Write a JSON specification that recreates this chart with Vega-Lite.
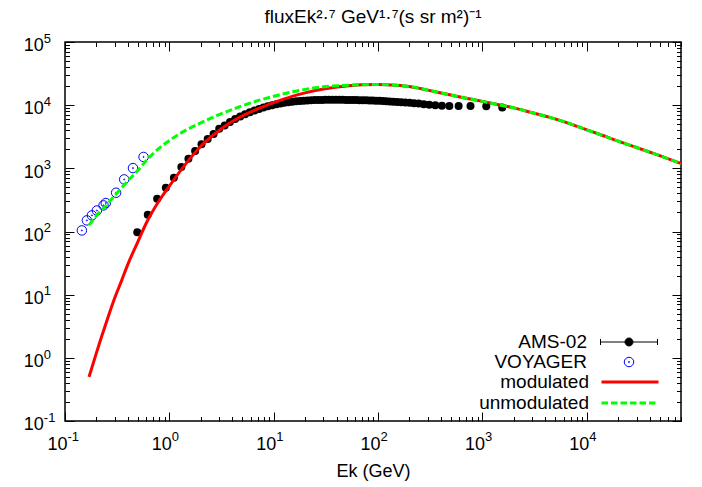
{
  "$schema": "https://vega.github.io/schema/vega-lite/v6.json",
  "width": 616,
  "height": 379,
  "autosize": {"type": "none"},
  "padding": {"left": 65, "top": 42, "right": 21, "bottom": 66},
  "background": "white",
  "title": {"text": "fluxEk²·⁷ GeV¹·⁷(s sr m²)⁻¹", "font": "Liberation Sans", "fontSize": 19, "fontWeight": "normal", "color": "black", "anchor": "middle", "baseline": "alphabetic", "offset": -10, "frame": "group"},
  "config": {
    "view": {"stroke": "black", "strokeWidth": 1.5},
    "font": "Liberation Sans",
    "axis": {"grid": false, "domain": false, "labelFont": "Liberation Sans", "labelColor": "black", "tickColor": "black", "labelOverlap": false, "labelFlush": false, "labelBound": false, "titleFont": "Liberation Sans"},
    "legend": {"title": null, "orient": "none", "padding": 0, "symbolSize": 361, "rowPadding": -4, "labelFont": "Liberation Sans", "labelFontSize": 19, "labelColor": "black", "labelAlign": "right", "labelOffset": -52, "labelBaseline": "middle", "labelLimit": 300, "symbolOpacity": 1}
  },
  "datasets": {
    "ams": [
      {"ek": 0.4925, "flux": 97}, {"ek": 0.621, "flux": 184}, {"ek": 0.764, "flux": 330}, {"ek": 0.925, "flux": 494},
      {"ek": 1.105, "flux": 711}, {"ek": 1.303, "flux": 1050}, {"ek": 1.523, "flux": 1420}, {"ek": 1.765, "flux": 1880},
      {"ek": 2.034, "flux": 2400}, {"ek": 2.33, "flux": 2920}, {"ek": 2.652, "flux": 3500}, {"ek": 3.005, "flux": 4217},
      {"ek": 3.39, "flux": 4786}, {"ek": 3.811, "flux": 5433}, {"ek": 4.272, "flux": 6053}, {"ek": 4.775, "flux": 6637},
      {"ek": 5.318, "flux": 7194}, {"ek": 5.907, "flux": 7727}, {"ek": 6.546, "flux": 8222}, {"ek": 7.236, "flux": 8710},
      {"ek": 7.982, "flux": 9162}, {"ek": 8.787, "flux": 9594}, {"ek": 9.654, "flux": 10000}, {"ek": 10.6, "flux": 10350},
      {"ek": 11.597, "flux": 10666}, {"ek": 12.644, "flux": 10940}, {"ek": 13.792, "flux": 11170}, {"ek": 15.04, "flux": 11376},
      {"ek": 16.387, "flux": 11535}, {"ek": 17.835, "flux": 11670}, {"ek": 19.384, "flux": 11776}, {"ek": 21.032, "flux": 11885},
      {"ek": 22.83, "flux": 11967}, {"ek": 24.779, "flux": 12023}, {"ek": 26.828, "flux": 12078}, {"ek": 29.027, "flux": 12106},
      {"ek": 31.376, "flux": 12134}, {"ek": 33.875, "flux": 12162}, {"ek": 36.574, "flux": 12162}, {"ek": 39.473, "flux": 12162},
      {"ek": 42.572, "flux": 12134}, {"ek": 45.871, "flux": 12134}, {"ek": 49.421, "flux": 12106}, {"ek": 53.22, "flux": 12078},
      {"ek": 57.27, "flux": 12050}, {"ek": 61.62, "flux": 12023}, {"ek": 66.32, "flux": 11995}, {"ek": 71.37, "flux": 11940},
      {"ek": 76.77, "flux": 11912}, {"ek": 82.57, "flux": 11858}, {"ek": 88.82, "flux": 11803}, {"ek": 95.57, "flux": 11749},
      {"ek": 103.07, "flux": 11695}, {"ek": 111.07, "flux": 11614}, {"ek": 119.57, "flux": 11535}, {"ek": 129.07, "flux": 11429},
      {"ek": 140.07, "flux": 11350}, {"ek": 152.57, "flux": 11272}, {"ek": 166.57, "flux": 11169}, {"ek": 182.57, "flux": 11041},
      {"ek": 200.57, "flux": 10914}, {"ek": 221.07, "flux": 10765}, {"ek": 245.07, "flux": 10593}, {"ek": 274.07, "flux": 10375},
      {"ek": 309.57, "flux": 10162}, {"ek": 353.57, "flux": 9954}, {"ek": 409.07, "flux": 9772}, {"ek": 482.07, "flux": 9683},
      {"ek": 591.57, "flux": 9727}, {"ek": 769.07, "flux": 9727}, {"ek": 1089.07, "flux": 9594}, {"ek": 1549.07, "flux": 9183}
    ],
    "voy": [
      {"ek": 0.145, "flux": 104}, {"ek": 0.162, "flux": 150}, {"ek": 0.181, "flux": 180}, {"ek": 0.202, "flux": 215},
      {"ek": 0.234, "flux": 259}, {"ek": 0.246, "flux": 282}, {"ek": 0.309, "flux": 411}, {"ek": 0.369, "flux": 668},
      {"ek": 0.448, "flux": 1010}, {"ek": 0.566, "flux": 1515}
    ],
    "mod": [
      {"ek": 0.17, "flux": 0.5}, {"ek": 0.2, "flux": 1.2}, {"ek": 0.25, "flux": 3.72}, {"ek": 0.3, "flux": 8.91},
      {"ek": 0.35, "flux": 17.0}, {"ek": 0.4, "flux": 30.2}, {"ek": 0.5, "flux": 69.2}, {"ek": 0.6, "flux": 135},
      {"ek": 0.8, "flux": 309}, {"ek": 1.0, "flux": 525}, {"ek": 1.5, "flux": 1288}, {"ek": 2.0, "flux": 2239},
      {"ek": 3.0, "flux": 3981}, {"ek": 4.0, "flux": 5495}, {"ek": 5.0, "flux": 6761}, {"ek": 7.0, "flux": 8710},
      {"ek": 10, "flux": 10965}, {"ek": 15, "flux": 13804}, {"ek": 20, "flux": 15668}, {"ek": 30, "flux": 17989},
      {"ek": 50, "flux": 20184}, {"ek": 70, "flux": 20989}, {"ek": 100, "flux": 21281}, {"ek": 150, "flux": 20654},
      {"ek": 200, "flux": 19724}, {"ek": 300, "flux": 17298}, {"ek": 500, "flux": 14454}, {"ek": 700, "flux": 12882},
      {"ek": 1000, "flux": 11482}, {"ek": 1500, "flux": 10000}, {"ek": 2000, "flux": 9057}, {"ek": 3000, "flux": 7586},
      {"ek": 4270, "flux": 6516}, {"ek": 6000, "flux": 5495}, {"ek": 10000, "flux": 4074}, {"ek": 14000, "flux": 3342},
      {"ek": 20000, "flux": 2692}, {"ek": 30000, "flux": 2138}, {"ek": 50000, "flux": 1585}, {"ek": 80000, "flux": 1190}
    ],
    "unmod": [
      {"ek": 0.17, "flux": 126}, {"ek": 0.2, "flux": 178}, {"ek": 0.25, "flux": 263}, {"ek": 0.3, "flux": 372},
      {"ek": 0.4, "flux": 631}, {"ek": 0.5, "flux": 933}, {"ek": 0.6, "flux": 1318}, {"ek": 0.8, "flux": 2089},
      {"ek": 1.0, "flux": 2754}, {"ek": 1.5, "flux": 4169}, {"ek": 2.0, "flux": 5248}, {"ek": 3.0, "flux": 7079},
      {"ek": 4.0, "flux": 8511}, {"ek": 5.0, "flux": 9772}, {"ek": 7.0, "flux": 11749}, {"ek": 10, "flux": 13804},
      {"ek": 15, "flux": 16218}, {"ek": 20, "flux": 17783}, {"ek": 30, "flux": 19498}, {"ek": 50, "flux": 20654},
      {"ek": 70, "flux": 21135}, {"ek": 100, "flux": 21281}, {"ek": 150, "flux": 20654}, {"ek": 200, "flux": 19724},
      {"ek": 300, "flux": 17298}, {"ek": 500, "flux": 14454}, {"ek": 700, "flux": 12882}, {"ek": 1000, "flux": 11482},
      {"ek": 1500, "flux": 10000}, {"ek": 2000, "flux": 9057}, {"ek": 3000, "flux": 7586}, {"ek": 4270, "flux": 6516},
      {"ek": 6000, "flux": 5495}, {"ek": 10000, "flux": 4074}, {"ek": 14000, "flux": 3342}, {"ek": 20000, "flux": 2692},
      {"ek": 30000, "flux": 2138}, {"ek": 50000, "flux": 1585}, {"ek": 80000, "flux": 1190}
    ]
  },
  "layer": [
    {
      "data": {"name": "ams"},
      "mark": {"type": "point", "shape": "circle", "filled": true, "color": "black", "size": 64, "opacity": 1},
      "encoding": {
        "x": {"field": "ek", "type": "quantitative", "scale": {"type": "log", "domain": [0.1, 80000], "nice": false},
          "axis": {"orient": "bottom", "values": [0.1,0.2,0.3,0.4,0.5,0.6,0.7,0.8,0.9,1,2,3,4,5,6,7,8,9,10,20,30,40,50,60,70,80,90,100,200,300,400,500,600,700,800,900,1000,2000,3000,4000,5000,6000,7000,8000,9000,10000,20000,30000,40000,50000,60000,70000,80000],
            "tickSize": -9, "tickWidth": 1,
            "tickDash": {"condition": {"test": "abs(log(datum.value)/LN10 - round(log(datum.value)/LN10)) < 0.001", "value": [12, 0]}, "value": [4.5, 12]},
            "labelExpr": "abs(log(datum.value)/LN10 - round(log(datum.value)/LN10)) < 0.001 ? '10' : ''",
            "labelFontSize": 18, "labelAlign": "right", "labelBaseline": "alphabetic", "labelOffset": 2, "labelPadding": 37,
            "title": "Ek (GeV)", "titleFontSize": 18, "titleFontWeight": "normal", "titleColor": "black", "titleBaseline": "alphabetic", "titleY": 55}},
        "y": {"field": "flux", "type": "quantitative", "scale": {"type": "log", "domain": [0.1, 100000], "nice": false},
          "axis": {"orient": "left", "values": [0.1,0.2,0.3,0.4,0.5,0.6,0.7,0.8,0.9,1,2,3,4,5,6,7,8,9,10,20,30,40,50,60,70,80,90,100,200,300,400,500,600,700,800,900,1000,2000,3000,4000,5000,6000,7000,8000,9000,10000,20000,30000,40000,50000,60000,70000,80000,90000,100000],
            "tickSize": -9, "tickWidth": 1,
            "tickDash": {"condition": {"test": "abs(log(datum.value)/LN10 - round(log(datum.value)/LN10)) < 0.001", "value": [12, 0]}, "value": [4.5, 12]},
            "labelExpr": "abs(log(datum.value)/LN10 - round(log(datum.value)/LN10)) < 0.001 ? '10' : ''",
            "labelFontSize": 18, "labelAlign": "right", "labelBaseline": "alphabetic", "labelOffset": 8.7, "labelPadding": 30.7,
            "title": null}}
      }
    },
    {
      "data": {"name": "voy"},
      "mark": {"type": "point", "shape": "M1,0A1,1,0,1,1,-1,0A1,1,0,1,1,1,0ZM0.12,0A0.12,0.12,0,1,1,-0.12,0A0.12,0.12,0,1,1,0.12,0Z", "filled": false, "color": "#0000ff", "strokeWidth": 1, "size": 90, "opacity": 1},
      "encoding": {
        "x": {"field": "ek", "type": "quantitative", "scale": {"type": "log", "domain": [0.1, 80000], "nice": false},
          "axis": {"orient": "bottom", "values": [0.1, 1, 10, 100, 1000, 10000], "ticks": false,
            "labelExpr": "'' + round(log(datum.value)/LN10)",
            "labelFontSize": 13, "labelAlign": "left", "labelBaseline": "alphabetic", "labelOffset": 2, "labelPadding": 19, "title": null}},
        "y": {"field": "flux", "type": "quantitative", "scale": {"type": "log", "domain": [0.1, 100000], "nice": false},
          "axis": {"orient": "left", "values": [0.1, 1, 10, 100, 1000, 10000, 100000], "ticks": false,
            "labelExpr": "'' + round(log(datum.value)/LN10)",
            "labelFontSize": 13, "labelAlign": "left", "labelBaseline": "alphabetic", "labelOffset": 0.3, "labelPadding": 21.7, "title": null}}
      }
    },
    {
      "data": {"name": "mod"},
      "mark": {"type": "line", "color": "#ff0000", "strokeWidth": 3, "interpolate": "monotone", "clip": true},
      "encoding": {
        "x": {"field": "ek", "type": "quantitative", "scale": {"type": "log", "domain": [0.1, 80000], "nice": false},
          "axis": {"orient": "top", "values": [0.1,0.2,0.3,0.4,0.5,0.6,0.7,0.8,0.9,1,2,3,4,5,6,7,8,9,10,20,30,40,50,60,70,80,90,100,200,300,400,500,600,700,800,900,1000,2000,3000,4000,5000,6000,7000,8000,9000,10000,20000,30000,40000,50000,60000,70000,80000],
            "tickSize": -9, "tickWidth": 1, "labels": false, "title": null,
            "tickDash": {"condition": {"test": "abs(log(datum.value)/LN10 - round(log(datum.value)/LN10)) < 0.001", "value": [12, 0]}, "value": [4.5, 12]}}},
        "y": {"field": "flux", "type": "quantitative", "scale": {"type": "log", "domain": [0.1, 100000], "nice": false},
          "axis": {"orient": "right", "values": [0.1,0.2,0.3,0.4,0.5,0.6,0.7,0.8,0.9,1,2,3,4,5,6,7,8,9,10,20,30,40,50,60,70,80,90,100,200,300,400,500,600,700,800,900,1000,2000,3000,4000,5000,6000,7000,8000,9000,10000,20000,30000,40000,50000,60000,70000,80000,90000,100000],
            "tickSize": -9, "tickWidth": 1, "labels": false, "title": null,
            "tickDash": {"condition": {"test": "abs(log(datum.value)/LN10 - round(log(datum.value)/LN10)) < 0.001", "value": [12, 0]}, "value": [4.5, 12]}}}
      }
    },
    {
      "data": {"name": "unmod"},
      "mark": {"type": "line", "color": "#00ff00", "strokeWidth": 3, "strokeDash": [7, 3], "interpolate": "monotone", "clip": true},
      "encoding": {
        "x": {"field": "ek", "type": "quantitative", "scale": {"type": "log", "domain": [0.1, 80000], "nice": false}, "axis": null},
        "y": {"field": "flux", "type": "quantitative", "scale": {"type": "log", "domain": [0.1, 100000], "nice": false}, "axis": null}
      }
    },
    {
      "data": {"values": []},
      "mark": {"type": "point", "opacity": 1, "filled": false},
      "encoding": {
        "stroke": {"field": "s", "type": "nominal",
          "scale": {"domain": ["AMS-02", "VOYAGER"], "range": ["#000000", "#0000ff"]},
          "legend": {"legendX": 554, "legendY": 290, "symbolStrokeWidth": 1}},
        "fill": {"field": "s", "type": "nominal",
          "scale": {"domain": ["AMS-02", "VOYAGER"], "range": ["#000000", "transparent"]},
          "legend": {"legendX": 554, "legendY": 290, "symbolStrokeWidth": 1}},
        "shape": {"field": "s", "type": "nominal",
          "scale": {"domain": ["AMS-02", "VOYAGER"], "range": ["M-3,0H3M-3,-0.32V0.32M3,-0.32V0.32M0.42,0A0.42,0.42,0,1,1,-0.42,0A0.42,0.42,0,1,1,0.42,0Z", "M0.5,0A0.5,0.5,0,1,1,-0.5,0A0.5,0.5,0,1,1,0.5,0ZM0.06,0A0.06,0.06,0,1,1,-0.06,0A0.06,0.06,0,1,1,0.06,0Z"]},
          "legend": {"legendX": 554, "legendY": 290, "symbolStrokeWidth": 1}}
      }
    },
    {
      "data": {"values": []},
      "mark": {"type": "point", "opacity": 1, "filled": false},
      "encoding": {
        "stroke": {"field": "t", "type": "nominal",
          "scale": {"domain": ["modulated", "unmodulated"], "range": ["#ff0000", "#00ff00"]},
          "legend": {"legendX": 554, "legendY": 329, "symbolStrokeWidth": 3, "symbolType": "M-3,0H3"}},
        "strokeDash": {"field": "t", "type": "nominal",
          "scale": {"domain": ["modulated", "unmodulated"], "range": [[1, 0], [6.5, 3]]},
          "legend": {"legendX": 554, "legendY": 329, "symbolStrokeWidth": 3, "symbolType": "M-3,0H3"}}
      }
    }
  ],
  "resolve": {
    "axis": {"x": "independent", "y": "independent"},
    "scale": {"stroke": "independent", "fill": "independent", "shape": "independent", "strokeDash": "independent"}
  }
}
